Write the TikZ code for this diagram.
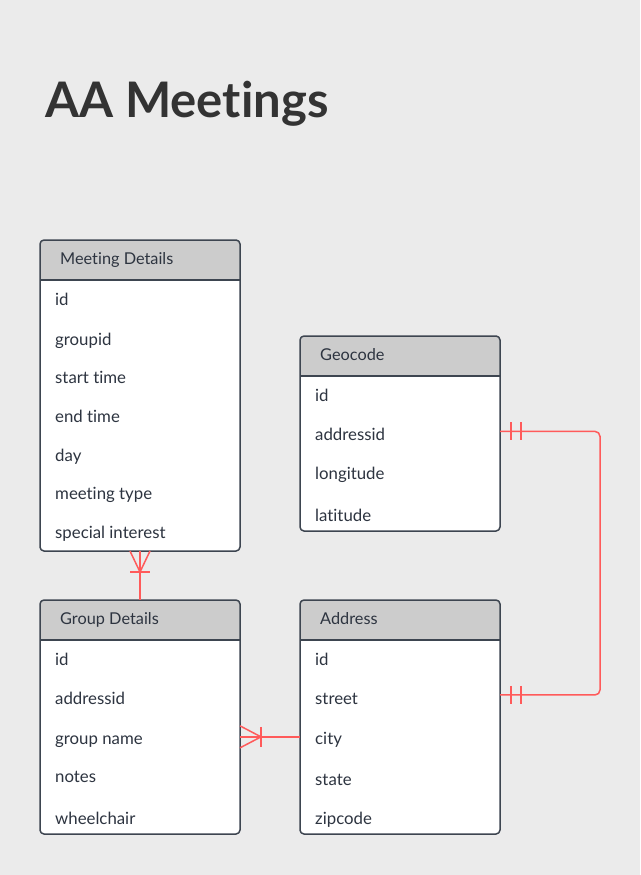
\documentclass[tikz,border=0pt]{standalone}
\usepackage{fontspec}
\setmainfont{Lato}[Ligatures={NoCommon}]
\usetikzlibrary{calc}
\definecolor{bgc}{HTML}{EBEBEB}
\definecolor{hdrc}{HTML}{CCCCCC}
\definecolor{borderc}{HTML}{3D4550}
\definecolor{relc}{HTML}{FF5A5A}
\definecolor{titlec}{HTML}{333333}
\definecolor{rowc}{HTML}{2D3440}
\newcommand{\ertab}[6]{%
  \node[tblbox, minimum width={#4-#2}, minimum height={#5-#3}, anchor=north west] (#1) at (#2,#3) {};
  \fill[hdrc] ([yshift=-40pt]#1.north west) [rounded corners=4pt] -- (#1.north west) -- (#1.north east) [sharp corners] -- ([yshift=-40pt]#1.north east) -- cycle;
  \draw[borderc, line width=1.5pt] ([yshift=-40pt]#1.north west) -- ([yshift=-40pt]#1.north east);
  \draw[borderc, line width=1.5pt, rounded corners=4pt] (#1.north west) rectangle (#1.south east);
  \node[hdrtext] (#1h) at ($(#1.north west)+(20,22)$) {#6};
}
\begin{document}
\begin{tikzpicture}[x=1pt,y=-1pt,
  tblbox/.style={fill=white, draw=none, inner sep=0, outer sep=0},
  hdrtext/.style={anchor=mid west, inner sep=0, text=rowc, font=\fontsize{16.3}{19}\selectfont},
  rowtext/.style={anchor=mid west, inner sep=0, text=rowc, font=\fontsize{16.8}{20}\selectfont},
  rel/.style={draw=relc, line width=1.5pt}]
\fill[bgc] (0,0) rectangle (640,875);
\useasboundingbox (0,0) rectangle (640,875);
\node[anchor=base west, inner sep=0, text=titlec, font=\bfseries\fontsize{49}{59}\selectfont] (title) at (45,117) {AA Meetings};

\ertab{md}{40}{240}{240}{551}{Meeting Details}
\ertab{geo}{300}{336}{500}{531}{Geocode}
\ertab{gd}{40}{600}{240}{834}{Group Details}
\ertab{ad}{300}{600}{500}{834}{Address}

\node[rowtext] (md1) at (55,303) {id};
\node[rowtext] (md2) at (55,343) {groupid};
\node[rowtext] (md3) at (55,381) {start time};
\node[rowtext] (md4) at (55,420) {end time};
\node[rowtext] (md5) at (55,459) {day};
\node[rowtext] (md6) at (55,497) {meeting type};
\node[rowtext] (md7) at (55,536) {special interest};

\node[rowtext] (geo1) at (315,399) {id};
\node[rowtext] (geo2) at (315,438) {addressid};
\node[rowtext] (geo3) at (315,477) {longitude};
\node[rowtext] (geo4) at (315,519) {latitude};

\node[rowtext] (gd1) at (55,663) {id};
\node[rowtext] (gd2) at (55,702) {addressid};
\node[rowtext] (gd3) at (55,742) {group name};
\node[rowtext] (gd4) at (55,780) {notes};
\node[rowtext] (gd5) at (55,822) {wheelchair};

\node[rowtext] (ad1) at (315,663) {id};
\node[rowtext] (ad2) at (315,702) {street};
\node[rowtext] (ad3) at (315,742) {city};
\node[rowtext] (ad4) at (315,783) {state};
\node[rowtext] (ad5) at (315,822) {zipcode};

% Meeting Details -- Group Details (one or many at Meeting Details)
\coordinate (c1) at ($(md.south)+(0,21)$);
\draw[rel] (md.south) -- (gd.north);
\draw[rel] ($(md.south)+(-10,0)$) -- (c1) -- ($(md.south)+(10,0)$);
\draw[rel] ($(c1)+(-10,0)$) -- ($(c1)+(10,0)$);

% Group Details -- Address (one or many at Group Details)
\coordinate (gdr) at ($(gd.east |- ad3)+(0,-3)$);
\coordinate (adl) at ($(ad.west |- ad3)+(0,-3)$);
\coordinate (c2) at ($(gdr)+(21,0)$);
\draw[rel] (gdr) -- (adl);
\draw[rel] ($(gdr)+(0,-11)$) -- (c2) -- ($(gdr)+(0,11)$);
\draw[rel] ($(c2)+(0,-10)$) -- ($(c2)+(0,10)$);

% Geocode -- Address (one and only one)
\coordinate (geor) at ($(geo.east |- geo2)+(0,-3)$);
\coordinate (adr) at ($(ad.east |- ad2)+(0,-4)$);
\draw[rel, rounded corners=5pt] (geor) -- ($(geor)+(100,0)$) -- ($(adr)+(100,0)$) -- (adr);
\draw[rel] ($(geor)+(11,-9)$) -- ($(geor)+(11,9)$);
\draw[rel] ($(geor)+(21,-9)$) -- ($(geor)+(21,9)$);
\draw[rel] ($(adr)+(11,-9)$) -- ($(adr)+(11,9)$);
\draw[rel] ($(adr)+(21,-9)$) -- ($(adr)+(21,9)$);
\end{tikzpicture}
\end{document}
